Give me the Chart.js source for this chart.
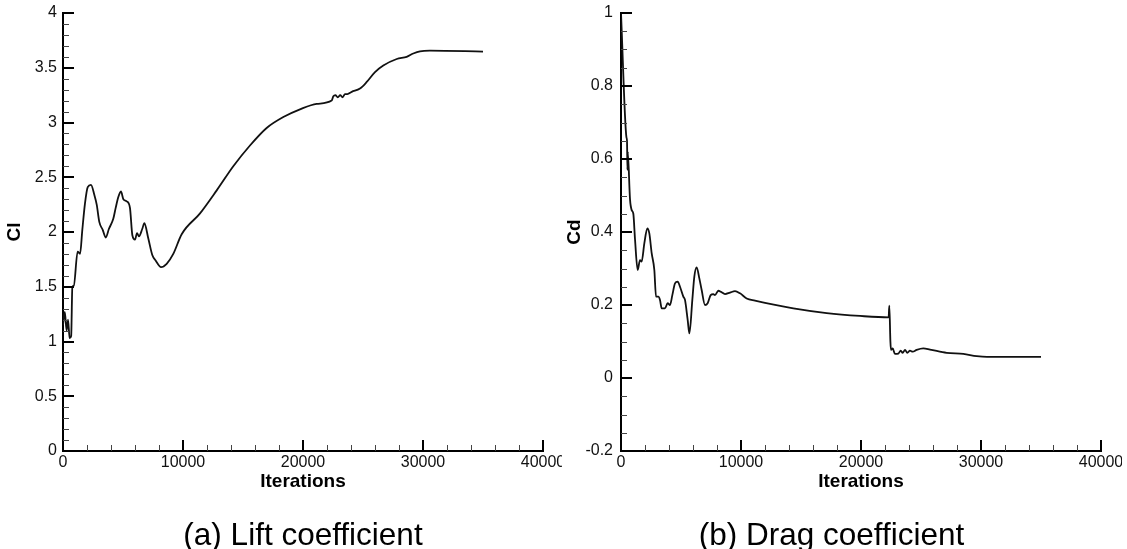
<!DOCTYPE html>
<html>
<head>
<meta charset="utf-8">
<script src="https://cdn.jsdelivr.net/npm/chart.js@4.4.1/dist/chart.umd.min.js"></script>
<style>
  html, body { margin: 0; padding: 0; background: #fff; }
  body { width: 1127px; height: 549px; position: relative; overflow: hidden; }
  .panel { position: absolute; top: 0; height: 549px; }
  #panelA { left: 0; width: 562px; }
  #panelB { left: 562px; width: 560px; }
</style>
</head>
<body>
<div class="panel" id="panelA"><canvas id="clChart"></canvas></div>
<div class="panel" id="panelB"><canvas id="cdChart"></canvas></div>
<script>
// lift coefficient history
const clIter = [0, 150, 300, 420, 550, 680, 780, 900, 1220, 1420, 1610, 1830, 2060, 2330, 2610, 2810,
  3030, 3310, 3560, 3830, 4190, 4390, 4610, 4830, 5030, 5310, 5580, 5780, 6000, 6170, 6330, 6610,
  6780, 7110, 7440, 7720, 8170, 8640, 9190, 9890, 11420, 12810, 14190, 15580, 16970, 18360, 19750,
  21140, 22390, 22530, 22700, 22900, 23100, 23300, 23500, 23700, 24060, 24750, 25310, 26000, 26690,
  27810, 28640, 29190, 29750, 30580, 35000];
const clVals = [1.15, 1.27, 1.10, 1.20, 1.03, 1.05, 1.50, 1.51, 1.82, 1.80, 2.02, 2.26, 2.41, 2.43, 2.34, 2.25,
  2.09, 2.02, 1.95, 2.03, 2.12, 2.22, 2.32, 2.37, 2.30, 2.28, 2.22, 1.97, 1.93, 1.99, 1.96, 2.03,
  2.08, 1.94, 1.79, 1.74, 1.68, 1.71, 1.80, 1.98, 2.17, 2.38, 2.60, 2.79, 2.95, 3.05, 3.12,
  3.17, 3.20, 3.24, 3.25, 3.23, 3.25, 3.23, 3.26, 3.26, 3.28, 3.31, 3.37, 3.46, 3.52,
  3.58, 3.60, 3.63, 3.65, 3.656, 3.648];

// drag coefficient history
const cdIter = [0, 450, 500, 540, 560, 750, 889, 1028, 1167, 1389, 1583, 1722, 1944, 2194, 2361, 2556,
  2778, 2917, 3111, 3250, 3389, 3667, 3889, 4083, 4278, 4500, 4722, 4917, 5194, 5333, 5556, 5700,
  5944, 6111, 6306, 6528, 6722, 7000, 7222, 7472, 7694, 7833, 8111, 8333, 8667, 9083, 9500, 9917,
  10472, 11167, 12000, 14361, 17139, 19917, 22300, 22360, 22450, 22500, 22640, 22830, 23110, 23310,
  23470, 23670, 23860, 24080, 24310, 24640, 25190, 25750, 27140, 28530, 29640, 30500, 35000];
const cdVals = [1.0, 0.66, 0.65, 0.57, 0.62, 0.49, 0.46, 0.45, 0.38, 0.296, 0.323, 0.319, 0.369, 0.41, 0.396, 0.342,
  0.296, 0.223, 0.223, 0.214, 0.191, 0.191, 0.205, 0.200, 0.227, 0.259, 0.264, 0.25, 0.223, 0.214, 0.159, 0.122,
  0.214, 0.278, 0.303, 0.273, 0.241, 0.200, 0.205, 0.227, 0.23, 0.227, 0.239, 0.236, 0.23, 0.234, 0.238, 0.232,
  0.218, 0.212, 0.206, 0.191, 0.178, 0.170, 0.166, 0.198, 0.10, 0.077, 0.081, 0.066, 0.067, 0.075,
  0.069, 0.077, 0.069, 0.075, 0.072, 0.077, 0.081, 0.078, 0.069, 0.066, 0.060, 0.058, 0.058];

const iterTicks = [0, 10000, 20000, 30000, 40000];
const clTicks = [0, 0.5, 1, 1.5, 2, 2.5, 3, 3.5, 4];
const cdTicks = [-0.2, 0, 0.2, 0.4, 0.6, 0.8, 1];

const FONT = "'Liberation Sans', Arial, sans-serif";
const CAPTION_H = 25.2;   // caption font size * lineHeight

// short tick marks drawn inside the axes, [minor step, major step]
const innerTicks = {
  id: 'innerTicks',
  afterDraw(chart, args, opts) {
    const ctx = chart.ctx;
    ctx.save();
    ['x', 'y'].forEach(id => {
      const scale = chart.scales[id];
      const [minor, major] = opts[id];
      const n = Math.round((scale.max - scale.min) / minor);
      for (let i = 0; i <= n; i++) {
        const v = scale.min + i * minor;
        const isMajor = Math.abs(v / major - Math.round(v / major)) < 1e-6;
        const len = isMajor ? 11 : 6;
        ctx.lineWidth = isMajor ? 2 : 1;
        ctx.strokeStyle = isMajor ? '#000' : '#444';
        const p = Math.round(scale.getPixelForValue(v)) + (isMajor ? 0 : 0.5);
        ctx.beginPath();
        if (scale.isHorizontal()) {
          ctx.moveTo(p, scale.top);
          ctx.lineTo(p, scale.top - len);
        } else {
          ctx.moveTo(scale.right, p);
          ctx.lineTo(scale.right + len, p);
        }
        ctx.stroke();
      }
    });
    ctx.restore();
  }
};

function buildChart(id, cfg) {
  return new Chart(document.getElementById(id), {
    type: 'line',
    data: {
      datasets: [{
        data: cfg.iter.map((x, i) => ({ x: x, y: cfg.vals[i] })),
        borderColor: '#111',
        borderWidth: 1.8,
        pointRadius: 0,
        fill: false,
        cubicInterpolationMode: 'monotone'
      }]
    },
    options: {
      responsive: true,
      maintainAspectRatio: false,
      animation: false,
      layout: { padding: { top: 13, right: cfg.padRight, left: 0, bottom: 0 } },
      plugins: {
        legend: { display: false },
        tooltip: { enabled: false },
        title: {
          display: true,
          text: cfg.caption,
          position: 'bottom',
          fullSize: cfg.captionFull,
          color: '#000',
          font: { family: FONT, size: 31.5, weight: 'normal', lineHeight: 0.8 },
          padding: { top: 0, bottom: 0 }
        },
        innerTicks: { x: [2000, 10000], y: cfg.ySteps }
      },
      scales: {
        x: {
          type: 'linear',
          min: 0,
          max: 40000,
          afterBuildTicks: s => { s.ticks = iterTicks.map(v => ({ value: v })); },
          afterFit: s => {
            s.height = 549 - CAPTION_H - 451;
            s.paddingLeft = 0;
            s.paddingRight = 0;
          },
          grid: { display: false, drawTicks: false },
          border: { display: true, color: '#000', width: 2 },
          ticks: {
            color: '#111',
            font: { family: FONT, size: 16 },
            padding: 2,
            maxRotation: 0,
            autoSkip: false,
            callback: v => String(v)
          },
          title: {
            display: true,
            text: 'Iterations',
            color: '#000',
            font: { family: FONT, size: 19, weight: 'bold', lineHeight: 1 },
            padding: { top: 0, bottom: 33 }
          }
        },
        y: {
          type: 'linear',
          min: cfg.ticks[0],
          max: cfg.ticks[cfg.ticks.length - 1],
          afterBuildTicks: s => { s.ticks = cfg.ticks.map(v => ({ value: v })); },
          afterFit: s => {
            s.width = cfg.axisWidth;
            s.paddingTop = 0;
            s.paddingBottom = 0;
          },
          grid: { display: false, drawTicks: false },
          border: { display: true, color: '#000', width: 2 },
          ticks: {
            color: '#111',
            font: { family: FONT, size: 16 },
            padding: cfg.labelPad,
            autoSkip: false,
            callback: v => String(v)
          },
          title: {
            display: true,
            text: cfg.yTitle,
            color: '#000',
            font: { family: FONT, size: 19, weight: 'bold', lineHeight: 1 },
            padding: { top: cfg.titlePad, bottom: 0 }
          }
        }
      }
    },
    plugins: [innerTicks]
  });
}

buildChart('clChart', {
  iter: clIter, vals: clVals, ticks: clTicks, ySteps: [0.1, 0.5],
  yTitle: 'Cl', caption: '(a) Lift coefficient', captionFull: false,
  axisWidth: 63, padRight: 19, labelPad: 6, titlePad: 5.5
});

buildChart('cdChart', {
  iter: cdIter, vals: cdVals, ticks: cdTicks, ySteps: [0.05, 0.2],
  yTitle: 'Cd', caption: '(b) Drag coefficient', captionFull: true,
  axisWidth: 59, padRight: 21, labelPad: 8, titlePad: 3.5
});
</script>
</body>
</html>
